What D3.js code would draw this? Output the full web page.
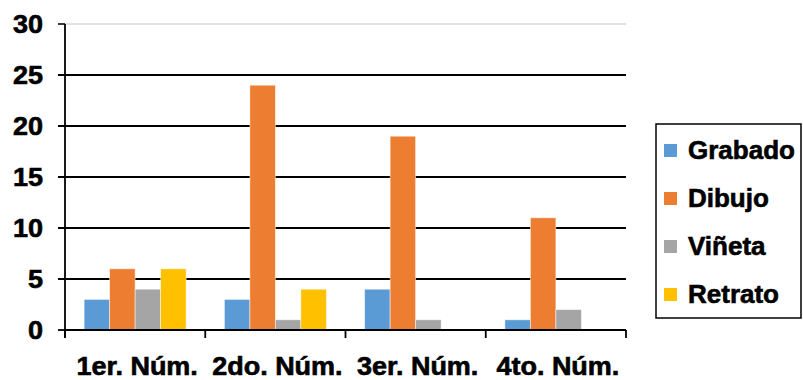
<!DOCTYPE html>
<html><head><meta charset="utf-8">
<script src="https://cdn.jsdelivr.net/npm/d3@7"></script>
<style>html,body{margin:0;padding:0;background:#fff;}svg text{font-family:"Liberation Sans",Arial,sans-serif;font-weight:bold;fill:#000;stroke:#000;stroke-width:0.6px;}</style>
</head><body>
<svg id="c" width="803" height="380"></svg>
<script>
const categories = ["1er. Núm.", "2do. Núm.", "3er. Núm.", "4to. Núm."];
const seriesNames = ["Grabado", "Dibujo", "Viñeta", "Retrato"];
const grabado = [3, 3, 4, 1];
const dibujo  = [6, 24, 19, 11];
const vineta  = [4, 1, 1, 2];
const retrato = [6, 4, 0, 0];
const colors = ["#5b9bd5", "#ed7d31", "#a5a5a5", "#ffc000"];
const yTicks = [0, 5, 10, 15, 20, 25, 30];

const seriesValues = [grabado, dibujo, vineta, retrato];
const svg = d3.select("#c");
const sx = 1.08;
const fs = 25;
const plot = {left: 65, right: 626, top: 24, bottom: 330};

const x0 = d3.scaleBand().domain(categories).range([plot.left, plot.right]).paddingInner(0).paddingOuter(0);
const x1 = d3.scaleBand().domain(seriesNames).range([0, x0.bandwidth()]).paddingInner(0).paddingOuter(0.75);
const y = d3.scaleLinear().domain([0, 30]).range([plot.bottom, plot.top]);

// gridlines
svg.append("g").selectAll("line").data(yTicks.filter(t => t > 0)).join("line")
  .attr("x1", plot.left - 7).attr("x2", plot.right)
  .attr("y1", d => y(d)).attr("y2", d => y(d))
  .attr("stroke", d => d === 30 ? "#d9d9d9" : "#000")
  .attr("stroke-width", d => d === 30 ? 1.5 : 1.8);
svg.append("line").attr("x1", plot.left - 7).attr("x2", plot.left).attr("y1", y(30)).attr("y2", y(30)).attr("stroke", "#000").attr("stroke-width", 1.5);

// bars
const data = [];
categories.forEach((c, i) => seriesNames.forEach((s, j) => data.push({c, s, v: seriesValues[j][i], j})));
svg.append("g").selectAll("rect").data(data.filter(d => d.v > 0)).join("rect")
  .attr("x", d => x0(d.c) + x1(d.s))
  .attr("width", x1.bandwidth())
  .attr("y", d => y(d.v))
  .attr("height", d => y(0) - y(d.v))
  .attr("fill", d => colors[d.j])
  .attr("stroke", "rgba(255,255,255,0.6)").attr("stroke-width", 0.8);

// axes
svg.append("line").attr("x1", plot.left).attr("x2", plot.left).attr("y1", plot.top).attr("y2", plot.bottom + 8)
  .attr("stroke", "#000").attr("stroke-width", 1.8);
svg.append("line").attr("x1", plot.left - 7).attr("x2", plot.left).attr("y1", y(0)).attr("y2", y(0)).attr("stroke", "#000").attr("stroke-width", 1.8);
svg.append("line").attr("x1", plot.left).attr("x2", plot.right).attr("y1", plot.bottom).attr("y2", plot.bottom)
  .attr("stroke", "#000").attr("stroke-width", 1.8);
const bounds = categories.map(c => x0(c)).concat([plot.right]);
svg.append("g").selectAll("line").data(bounds).join("line")
  .attr("x1", d => d).attr("x2", d => d).attr("y1", plot.bottom).attr("y2", plot.bottom + 8)
  .attr("stroke", "#000").attr("stroke-width", 1.8);

// y labels
svg.append("g").selectAll("text").data(yTicks).join("text")
  .attr("transform", d => `translate(43,${y(d) + 9}) scale(${sx},1)`)
  .attr("text-anchor", "end").attr("font-size", fs).text(d => d);

// x labels
svg.append("g").selectAll("text").data(categories).join("text")
  .attr("transform", d => `translate(${x0(d) + x0.bandwidth() / 2 + 2},375) scale(${sx},1)`)
  .attr("text-anchor", "middle").attr("font-size", fs).text(d => d);

// legend
const lg = svg.append("g");
lg.append("rect").attr("x", 656).attr("y", 124).attr("width", 145).attr("height", 194)
  .attr("fill", "none").attr("stroke", "#000").attr("stroke-width", 1.5);
const ly = d3.scalePoint().domain(seriesNames).range([150, 294]);
lg.selectAll("rect.k").data(seriesNames).join("rect").attr("class", "k")
  .attr("x", 664).attr("y", d => ly(d) - 6).attr("width", 13).attr("height", 13)
  .attr("fill", (d, i) => colors[i]);
lg.selectAll("text").data(seriesNames).join("text")
  .attr("transform", d => `translate(688,${ly(d) + 9}) scale(1.04,1)`)
  .attr("font-size", fs).text(d => d);
</script>
</body></html>
